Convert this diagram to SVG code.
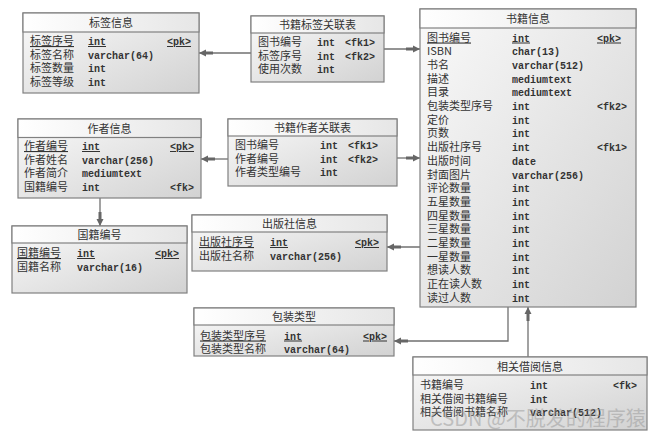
<svg xmlns="http://www.w3.org/2000/svg" width="657" height="438" viewBox="0 0 657 438">
<defs>
<linearGradient id="body" x1="0" y1="0" x2="1" y2="1">
<stop offset="0" stop-color="#fafafa"/><stop offset="1" stop-color="#d2d2d2"/>
</linearGradient>
<linearGradient id="head" x1="0" y1="0" x2="1" y2="0">
<stop offset="0" stop-color="#ffffff"/><stop offset="1" stop-color="#e6e6e6"/>
</linearGradient>
<marker id="arr" markerUnits="userSpaceOnUse" viewBox="0 0 14 8" refX="14" refY="4" markerWidth="14" markerHeight="8" orient="auto">
<path d="M0,2.5 H7 V0.5 L14,4 L7,7.5 V5.5 H0 Z" fill="#666"/>
</marker>
<style>
.b{fill:url(#body);stroke:#808080;stroke-width:1.2}
.h{fill:url(#head);stroke:#808080;stroke-width:1.2}
.t{font-family:"Noto Sans CJK SC","Noto Sans CJK JP",sans-serif;font-size:11px;fill:#333;text-anchor:middle}
.n{font-family:"Noto Sans CJK SC","Noto Sans CJK JP",sans-serif;font-size:11px;fill:#333}
.m{font-family:"Liberation Mono","DejaVu Sans Mono",monospace;font-size:10px;fill:#333;font-weight:bold}
.u{text-decoration:underline}
.c{fill:none;stroke:#707070;stroke-width:1.3;marker-end:url(#arr)}
.w{font-family:"Noto Sans CJK SC",sans-serif;font-size:20px;fill:#999;opacity:0.5}
</style>
</defs>

<g id="connectors">
<path class="c" d="M251,53 H199"/>
<path class="c" d="M384,49 H420"/>
<path class="c" d="M228,159 H201"/>
<path class="c" d="M397,158 H420"/>
<path class="c" d="M100,198 V226"/>
<path class="c" d="M420,247 H387"/>
<path class="c" d="M508,307 V341 H394"/>
<path class="c" d="M528,357 V307"/>
</g>

<g id="biaoqianxinxi">
<rect class="b" x="23" y="13" width="176" height="80"/>
<rect class="h" x="23" y="13" width="176" height="19"/>
<text class="t" x="111" y="27">标签信息</text>
<text class="n u" x="30" y="45">标签序号</text><text class="m u" x="88" y="45">int</text><text class="m u" x="167" y="45">&lt;pk&gt;</text>
<text class="n" x="30" y="58.7">标签名称</text><text class="m" x="88" y="58.7">varchar(64)</text>
<text class="n" x="30" y="72.4">标签数量</text><text class="m" x="88" y="72.4">int</text>
<text class="n" x="30" y="86.1">标签等级</text><text class="m" x="88" y="86.1">int</text>
</g>

<g id="shujibiaoqian">
<rect class="b" x="251" y="16" width="133" height="66"/>
<rect class="h" x="251" y="16" width="133" height="17"/>
<text class="t" x="317.5" y="29">书籍标签关联表</text>
<text class="n" x="258" y="46">图书编号</text><text class="m" x="317" y="46">int</text><text class="m" x="345" y="46">&lt;fk1&gt;</text>
<text class="n" x="258" y="59.7">标签序号</text><text class="m" x="317" y="59.7">int</text><text class="m" x="345" y="59.7">&lt;fk2&gt;</text>
<text class="n" x="258" y="73.4">使用次数</text><text class="m" x="317" y="73.4">int</text>
</g>

<g id="shujixinxi">
<rect class="b" x="420" y="9" width="216" height="298"/>
<rect class="h" x="420" y="9" width="216" height="19"/>
<text class="t" x="528" y="23">书籍信息</text>
<text class="n u" x="427" y="41.5">图书编号</text><text class="m u" x="512" y="41.5">int</text><text class="m u" x="597" y="41.5">&lt;pk&gt;</text>
<text class="n" x="427" y="55.2">ISBN</text><text class="m" x="512" y="55.2">char(13)</text>
<text class="n" x="427" y="68.9">书名</text><text class="m" x="512" y="68.9">varchar(512)</text>
<text class="n" x="427" y="82.6">描述</text><text class="m" x="512" y="82.6">mediumtext</text>
<text class="n" x="427" y="96.3">目录</text><text class="m" x="512" y="96.3">mediumtext</text>
<text class="n" x="427" y="110">包装类型序号</text><text class="m" x="512" y="110">int</text><text class="m" x="597" y="110">&lt;fk2&gt;</text>
<text class="n" x="427" y="123.7">定价</text><text class="m" x="512" y="123.7">int</text>
<text class="n" x="427" y="137.4">页数</text><text class="m" x="512" y="137.4">int</text>
<text class="n" x="427" y="151.1">出版社序号</text><text class="m" x="512" y="151.1">int</text><text class="m" x="597" y="151.1">&lt;fk1&gt;</text>
<text class="n" x="427" y="164.8">出版时间</text><text class="m" x="512" y="164.8">date</text>
<text class="n" x="427" y="178.5">封面图片</text><text class="m" x="512" y="178.5">varchar(256)</text>
<text class="n" x="427" y="192.2">评论数量</text><text class="m" x="512" y="192.2">int</text>
<text class="n" x="427" y="205.9">五星数量</text><text class="m" x="512" y="205.9">int</text>
<text class="n" x="427" y="219.6">四星数量</text><text class="m" x="512" y="219.6">int</text>
<text class="n" x="427" y="233.3">三星数量</text><text class="m" x="512" y="233.3">int</text>
<text class="n" x="427" y="247">二星数量</text><text class="m" x="512" y="247">int</text>
<text class="n" x="427" y="260.7">一星数量</text><text class="m" x="512" y="260.7">int</text>
<text class="n" x="427" y="274.4">想读人数</text><text class="m" x="512" y="274.4">int</text>
<text class="n" x="427" y="288.1">正在读人数</text><text class="m" x="512" y="288.1">int</text>
<text class="n" x="427" y="301.8">读过人数</text><text class="m" x="512" y="301.8">int</text>
</g>

<g id="zuozhexinxi">
<rect class="b" x="18" y="119" width="183" height="79"/>
<rect class="h" x="18" y="119" width="183" height="18.5"/>
<text class="t" x="109.5" y="132.5">作者信息</text>
<text class="n u" x="24" y="150">作者编号</text><text class="m u" x="82" y="150">int</text><text class="m u" x="170" y="150">&lt;pk&gt;</text>
<text class="n" x="24" y="163.7">作者姓名</text><text class="m" x="82" y="163.7">varchar(256)</text>
<text class="n" x="24" y="177.4">作者简介</text><text class="m" x="82" y="177.4">mediumtext</text>
<text class="n" x="24" y="191.1">国籍编号</text><text class="m" x="82" y="191.1">int</text><text class="m" x="170" y="191.1">&lt;fk&gt;</text>
</g>

<g id="shujizuozhe">
<rect class="b" x="228" y="119" width="169" height="67"/>
<rect class="h" x="228" y="119" width="169" height="17"/>
<text class="t" x="312.5" y="132">书籍作者关联表</text>
<text class="n" x="235" y="149">图书编号</text><text class="m" x="320" y="149">int</text><text class="m" x="348" y="149">&lt;fk1&gt;</text>
<text class="n" x="235" y="162.7">作者编号</text><text class="m" x="320" y="162.7">int</text><text class="m" x="348" y="162.7">&lt;fk2&gt;</text>
<text class="n" x="235" y="176.4">作者类型编号</text><text class="m" x="320" y="176.4">int</text>
</g>

<g id="guojibianhao">
<rect class="b" x="12" y="226" width="175" height="67"/>
<rect class="h" x="12" y="226" width="175" height="17"/>
<text class="t" x="99.5" y="239">国籍编号</text>
<text class="n u" x="17" y="257">国籍编号</text><text class="m u" x="77" y="257">int</text><text class="m u" x="155" y="257">&lt;pk&gt;</text>
<text class="n" x="17" y="270.7">国籍名称</text><text class="m" x="77" y="270.7">varchar(16)</text>
</g>

<g id="chubanshexinxi">
<rect class="b" x="192" y="215" width="195" height="56"/>
<rect class="h" x="192" y="215" width="195" height="17"/>
<text class="t" x="289.5" y="228">出版社信息</text>
<text class="n u" x="199" y="246">出版社序号</text><text class="m u" x="270" y="246">int</text><text class="m u" x="355" y="246">&lt;pk&gt;</text>
<text class="n" x="199" y="259.7">出版社名称</text><text class="m" x="270" y="259.7">varchar(256)</text>
</g>

<g id="baozhuangleixing">
<rect class="b" x="194" y="308" width="200" height="48"/>
<rect class="h" x="194" y="308" width="200" height="17"/>
<text class="t" x="294" y="321">包装类型</text>
<text class="n u" x="200" y="339.5">包装类型序号</text><text class="m u" x="284" y="339.5">int</text><text class="m u" x="363" y="339.5">&lt;pk&gt;</text>
<text class="n" x="200" y="353">包装类型名称</text><text class="m" x="284" y="353">varchar(64)</text>
</g>

<g id="xiangguanjieyue">
<rect class="b" x="413" y="357" width="234" height="73"/>
<rect class="h" x="413" y="357" width="234" height="18"/>
<text class="t" x="530" y="370.5">相关借阅信息</text>
<text class="n" x="420" y="389">书籍编号</text><text class="m" x="530" y="389">int</text><text class="m" x="613" y="389">&lt;fk&gt;</text>
<text class="n" x="420" y="402.7">相关借阅书籍编号</text><text class="m" x="530" y="402.7">int</text>
<text class="n" x="420" y="416.4">相关借阅书籍名称</text><text class="m" x="530" y="416.4">varchar(512)</text>
</g>

<text class="w" x="430" y="426">CSDN @不脱发的程序猿</text>
</svg>
